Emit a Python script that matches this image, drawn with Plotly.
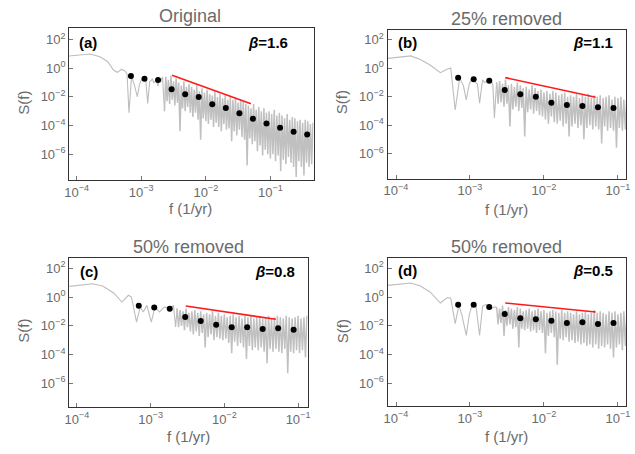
import plotly.graph_objects as go

W, H = 635, 454
FONT = "Liberation Sans, Arial, sans-serif"

# ---------------- data (log10 values) ----------------
# shared dense frequency grid, log10(f in 1/yr)
dense_logf = [-2.64, -2.62, -2.60, -2.58, -2.56, -2.54, -2.52, -2.50, -2.48, -2.46,
              -2.44, -2.42, -2.40, -2.38, -2.36, -2.34, -2.32, -2.30, -2.28, -2.26,
              -2.24, -2.22, -2.20, -2.18, -2.16, -2.14, -2.12, -2.10, -2.08, -2.06,
              -2.04, -2.02, -2.00, -1.98, -1.96, -1.94, -1.92, -1.90, -1.88, -1.86,
              -1.84, -1.82, -1.80, -1.78, -1.76, -1.74, -1.72, -1.70, -1.68, -1.66,
              -1.64, -1.62, -1.60, -1.58, -1.56, -1.54, -1.52, -1.50, -1.48, -1.46,
              -1.44, -1.42, -1.40, -1.38, -1.36, -1.34, -1.32, -1.30, -1.28, -1.26,
              -1.24, -1.22, -1.20, -1.18, -1.16, -1.14, -1.12, -1.10, -1.08, -1.06,
              -1.04, -1.02, -1.00, -0.98, -0.96, -0.94, -0.92, -0.90, -0.88, -0.86,
              -0.84, -0.82, -0.80, -0.78, -0.76, -0.74, -0.72, -0.70, -0.68, -0.66,
              -0.64, -0.62, -0.60, -0.58, -0.56, -0.54, -0.52, -0.50, -0.48, -0.46,
              -0.44, -0.42, -0.40, -0.38, -0.36, -0.34]

# panel (a) Original
a_low_logf = [-4.12, -3.79, -3.63, -3.52, -3.43, -3.37, -3.31, -3.26, -3.22, -3.19,
              -3.15, -3.11, -3.06, -3.03, -3.00, -2.96, -2.93, -2.90, -2.87, -2.83,
              -2.80, -2.77, -2.74, -2.72, -2.70, -2.67]
a_low_logS = [0.86, 1.00, 0.79, 0.46, -0.12, -0.28, -0.08, -0.15, -0.40, -3.10,
              -0.59, -1.10, -1.99, -1.17, -0.82, -0.68, -0.82, -2.45, -0.96, -0.75,
              -1.03, -0.82, -1.24, -0.70, -0.96, -0.60]
a_dense_logS = [-3.0,
                -0.6, -2.3, -0.8, -2.5, -0.5, -2.2, -0.9, -2.6, -0.7, -2.4,
                -1.0, -4.4, -1.2, -2.8, -0.9, -3.0, -1.3, -2.7, -1.1, -3.1,
                -1.3, -3.4, -1.5, -3.1, -1.2, -3.6, -1.6, -5.0, -1.4, -3.5,
                -1.7, -3.7, -1.5, -3.9, -1.8, -3.6, -1.9, -4.1, -1.6, -3.8,
                -2.0, -4.1, -1.8, -4.4, -2.1, -3.9, -1.9, -4.3, -2.2, -4.2,
                -2.0, -5.1, -2.2, -4.4, -2.1, -4.7, -2.4, -4.3, -2.2, -4.8,
                -2.3, -5.0, -2.5, -6.8, -2.6, -4.9, -2.8, -5.3, -2.5, -5.1,
                -2.9, -5.8, -2.7, -5.4, -3.0, -6.1, -2.8, -5.7, -3.1, -6.0,
                -3.0, -6.3, -3.2, -6.0, -2.9, -6.5, -3.3, -6.1, -3.1, -7.2,
                -3.3, -6.4, -3.5, -6.7, -3.2, -6.2, -3.6, -6.6, -3.4, -6.9,
                -3.5, -7.6, -3.7, -6.5, -3.6, -6.9, -3.8, -7.5, -3.6, -6.6,
                -3.7, -6.9, -3.9, -6.7, -3.8]

# panel (b) 25% removed
b_low_logf = [-4.11, -3.80, -3.67, -3.54, -3.40, -3.31, -3.26, -3.20, -3.14, -3.09,
              -3.05, -3.01, -2.98, -2.94, -2.90, -2.87, -2.83, -2.80, -2.78, -2.75,
              -2.72, -2.69, -2.67]
b_low_logS = [0.70, 0.87, 0.62, 0.23, -0.31, -0.07, 0.02, -2.94, -0.70, -1.20,
              -2.23, -1.10, -0.82, -0.90, -1.10, -2.46, -0.82, -1.00, -0.94, -0.85,
              -0.70, -1.20, -3.52]
b_dense_logS = [-1.0, -2.5, -0.9, -2.4, -1.1, -2.7, -0.8, -2.5, -1.2, -4.1,
                -1.1, -2.9, -1.3, -2.7, -1.0, -3.0, -1.2, -2.8, -1.4, -4.8,
                -1.3, -3.1, -1.5, -2.9, -1.2, -3.2, -1.4, -3.0, -1.6, -3.3,
                -1.5, -3.4, -1.7, -3.6, -1.6, -3.9, -1.8, -3.4, -1.6, -3.8,
                -1.7, -3.9, -1.9, -3.7, -1.8, -4.1, -1.7, -3.9, -2.0, -4.8,
                -1.9, -4.1, -2.0, -3.9, -1.8, -4.2, -2.1, -4.0, -1.9, -5.0,
                -2.0, -4.2, -1.8, -4.0, -2.1, -4.3, -1.9, -4.1, -2.0, -4.3,
                -1.9, -5.3, -2.1, -4.1, -2.0, -4.4, -1.9, -4.2, -2.2, -4.4,
                -2.0, -5.6, -2.1, -4.2, -2.0, -4.4, -2.2, -4.3, -2.0]

# panel (c) 50% removed
c_low_logf = [-4.10, -3.79, -3.65, -3.50, -3.39, -3.30, -3.26, -3.19, -3.14, -3.10,
              -3.05, -2.99, -2.94, -2.88, -2.81, -2.74, -2.69, -2.66]
c_low_logS = [0.74, 0.92, 0.76, 0.28, -0.35, 0.12, 0.00, -1.74, -0.69, -1.04,
              -0.58, -1.74, -0.69, -1.04, -0.69, -0.81, -0.58, -2.08]
c_dense_logS = [-0.8, -2.1, -0.9, -2.0, -1.0, -2.3, -0.8, -2.1, -1.1, -2.4,
                -1.0, -2.6, -0.9, -2.4, -1.1, -2.7, -1.0, -2.5, -1.2, -3.5,
                -1.1, -2.8, -1.2, -2.6, -1.0, -3.0, -1.3, -2.8, -1.1, -2.9,
                -1.3, -3.0, -1.2, -2.9, -1.4, -3.2, -1.3, -3.9, -1.2, -3.1,
                -1.4, -3.4, -1.3, -3.2, -1.5, -3.5, -1.3, -4.3, -1.4, -3.4,
                -1.3, -3.7, -1.5, -3.5, -1.4, -3.7, -1.3, -3.5, -1.5, -3.8,
                -1.4, -4.6, -1.3, -3.6, -1.5, -3.8, -1.4, -3.6, -1.3, -3.8,
                -1.4, -3.9, -1.5, -3.6, -1.3, -5.3, -1.4, -3.8, -1.5, -3.9,
                -1.4, -3.7, -1.3, -3.9, -1.5, -3.7, -1.4, -4.2, -1.3]

# panel (d) 50% removed
d_low_logf = [-4.11, -3.80, -3.67, -3.54, -3.40, -3.31, -3.26, -3.20, -3.15, -3.11,
              -3.05, -3.01, -2.97, -2.92, -2.87, -2.83, -2.78, -2.72, -2.67]
d_low_logS = [0.81, 0.97, 0.76, 0.35, -0.42, -0.05, -0.07, -1.85, -0.58, -1.25,
              -2.66, -1.25, -0.53, -0.58, -2.66, -0.65, -0.51, -0.81, -0.69]
d_dense_logS = [-0.7, -1.9, -0.8, -1.8, -0.6, -2.7, -0.9, -2.0, -0.7, -1.9,
                -0.8, -2.2, -0.9, -2.1, -0.7, -3.5, -0.8, -2.2, -1.0, -2.3,
                -0.9, -2.2, -0.8, -2.4, -1.0, -2.3, -0.9, -2.5, -0.8, -2.3,
                -1.0, -2.5, -0.9, -3.9, -1.1, -2.7, -1.0, -2.5, -0.9, -2.8,
                -1.0, -4.7, -1.1, -2.9, -0.9, -3.0, -1.1, -2.8, -1.0, -3.1,
                -1.1, -3.0, -1.2, -3.2, -1.0, -3.1, -1.2, -3.3, -1.1, -3.2,
                -1.0, -3.4, -1.2, -3.3, -1.1, -3.5, -0.9, -3.3, -1.1, -3.6,
                -1.0, -3.4, -1.1, -3.5, -1.2, -3.3, -1.0, -3.6, -1.1, -4.2,
                -1.0, -3.5, -1.2, -3.3, -1.1, -3.7, -1.0, -3.4, -1.1]

# binned averages (black dots)
bin_logf = [-3.16, -2.95, -2.74, -2.53, -2.32, -2.11, -1.90, -1.69, -1.48, -1.27,
            -1.06, -0.85, -0.64, -0.43]
a_bin_logS = [-0.54, -0.73, -0.82, -1.47, -1.82, -2.01, -2.52, -2.78, -3.15, -3.52,
              -3.85, -4.15, -4.43, -4.62]
b_bin_logS = [-0.66, -0.77, -0.87, -1.53, -1.83, -2.00, -2.42, -2.58, -2.65, -2.75, -2.79]
c_bin_logS = [-0.60, -0.72, -0.81, -1.39, -1.67, -1.92, -2.10, -2.10, -2.22, -2.17, -2.27]
d_bin_logS = [-0.53, -0.53, -0.69, -1.18, -1.48, -1.55, -1.65, -1.81, -1.76, -1.88, -1.81]

# power-law fits (red lines), endpoints
fit_f = [0.003, 0.05]
a_fit_logS = [-0.49, -2.48]
b_fit_logS = [-0.66, -2.04]
c_fit_logS = [-0.63, -1.55]
d_fit_logS = [-0.42, -1.04]

titles = ["Original", "25% removed", "50% removed", "50% removed"]
labels = ["(a)", "(b)", "(c)", "(d)"]
betas = ["1.6", "1.1", "0.8", "0.5"]

x_ticks = [1e-4, 1e-3, 1e-2, 1e-1]
x_ticktext = ["10<sup>\u22124</sup>", "10<sup>\u22123</sup>", "10<sup>\u22122</sup>", "10<sup>\u22121</sup>"]
y_ticks = [1e2, 1e0, 1e-2, 1e-4, 1e-6]
y_ticktext = ["10<sup>2</sup>", "10<sup>0</sup>", "10<sup>\u22122</sup>", "10<sup>\u22124</sup>", "10<sup>\u22126</sup>"]

# ---------------- layout geometry (pixels) ----------------
panels = [
    dict(box=(65, 313, 28, 180), xr=[-4.118, -0.331], yr=[-7.81, 2.82],
         low=(a_low_logf, a_low_logS), dense=a_dense_logS, bins=a_bin_logS, fit=a_fit_logS,
         title_xy=(188, 16), f_xy=(188, 208), s_xy=(18, 103), lab_xy=(73, 42), beta_xy=(289, 43)),
    dict(box=(388, 630, 29.5, 178.5), xr=[-4.115, -0.89], yr=[-7.76, 2.73],
         low=(b_low_logf, b_low_logS), dense=b_dense_logS, bins=b_bin_logS, fit=b_fit_logS,
         title_xy=(509, 19), f_xy=(509, 209), s_xy=(342, 102), lab_xy=(397, 43), beta_xy=(619, 43)),
    dict(box=(65, 307, 258, 407), xr=[-4.105, -0.87], yr=[-7.64, 2.71],
         low=(c_low_logf, c_low_logS), dense=c_dense_logS, bins=c_bin_logS, fit=c_fit_logS,
         title_xy=(186, 247), f_xy=(186, 436), s_xy=(18, 331), lab_xy=(74, 271), beta_xy=(296, 271)),
    dict(box=(388, 630, 257.7, 406), xr=[-4.115, -0.89], yr=[-7.57, 2.73],
         low=(d_low_logf, d_low_logS), dense=d_dense_logS, bins=d_bin_logS, fit=d_fit_logS,
         title_xy=(509, 247), f_xy=(509, 436), s_xy=(342, 331), lab_xy=(397, 270), beta_xy=(619, 270)),
]

fig = go.Figure()
annotations = []


def px(x):
    return x / W


def py(y):
    return 1 - y / H


def ann(text, x, y, size, color, xanchor="center", angle=0):
    annotations.append(dict(text=text, x=px(x), y=py(y), xref="paper", yref="paper",
                            showarrow=False, xanchor=xanchor, yanchor="middle", textangle=angle,
                            font=dict(family=FONT, size=size, color=color)))


for i, p in enumerate(panels):
    n = "" if i == 0 else str(i + 1)
    xa, ya = "x" + n, "y" + n
    low_f, low_s = p["low"]
    dense_f = dense_logf[:len(p["dense"])]
    # sparse low-frequency part of the spectrum (thin line)
    fig.add_trace(go.Scatter(x=[10 ** v for v in low_f + dense_f[:1]],
                             y=[10 ** v for v in low_s + p["dense"][:1]], mode="lines",
                             line=dict(color="#bdbdbd", width=1.1, simplify=False),
                             xaxis=xa, yaxis=ya, showlegend=False, hoverinfo="skip"))
    # densely sampled high-frequency part of the spectrum
    fig.add_trace(go.Scatter(x=[10 ** v for v in dense_f], y=[10 ** v for v in p["dense"]],
                             mode="lines", line=dict(color="#c0c0c0", width=1.5, simplify=False),
                             xaxis=xa, yaxis=ya, showlegend=False, hoverinfo="skip"))
    fig.add_trace(go.Scatter(x=fit_f, y=[10 ** v for v in p["fit"]], mode="lines",
                             line=dict(color="#ff1a1a", width=1.6), xaxis=xa, yaxis=ya,
                             showlegend=False))
    nb = len(p["bins"])
    fig.add_trace(go.Scatter(x=[10 ** v for v in bin_logf[:nb]], y=[10 ** v for v in p["bins"]],
                             mode="markers", marker=dict(color="black", size=6),
                             xaxis=xa, yaxis=ya, showlegend=False))
    l, r, t, b = p["box"]
    common = dict(type="log", showgrid=False, zeroline=False, showline=True, linecolor="#333",
                  linewidth=1, mirror=True, ticks="inside", ticklen=4, tickcolor="#777",
                  tickwidth=1, tickfont=dict(family=FONT, size=13, color="#6b6b6b"))
    fig.layout["xaxis" + n] = dict(common, domain=[px(l), px(r)], range=p["xr"], anchor=ya,
                                   tickvals=x_ticks, ticktext=x_ticktext)
    fig.layout["yaxis" + n] = dict(common, domain=[py(b), py(t)], range=p["yr"], anchor=xa,
                                   tickvals=y_ticks, ticktext=y_ticktext)
    ann(titles[i], *p["title_xy"], 18, "#6b6b6b")
    ann("f (1/yr)", *p["f_xy"], 15, "#6b6b6b")
    ann("S(f)", *p["s_xy"], 15, "#6b6b6b", angle=-90)
    ann("<b>" + labels[i] + "</b>", *p["lab_xy"], 15, "black", xanchor="left")
    ann("<b><i>\u03b2</i>=" + betas[i] + "</b>", *p["beta_xy"], 15, "black", xanchor="right")

fig.update_layout(width=W, height=H, margin=dict(l=0, r=0, t=0, b=0), autosize=False,
                  paper_bgcolor="white", plot_bgcolor="white", annotations=annotations,
                  font=dict(family=FONT))

fig.write_html("out.html", config={"displayModeBar": False},
               post_script="document.body.style.margin='0';document.body.style.overflow='hidden';")
